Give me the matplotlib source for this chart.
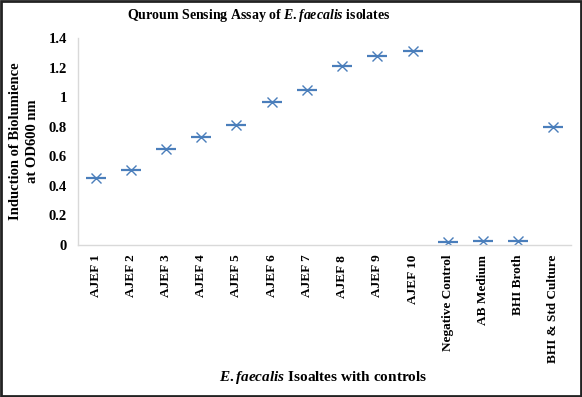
import matplotlib
matplotlib.use("Agg")
import matplotlib.pyplot as plt
from matplotlib.patches import Rectangle

categories = ["AJEF 1", "AJEF 2", "AJEF 3", "AJEF 4", "AJEF 5", "AJEF 6", "AJEF 7",
              "AJEF 8", "AJEF 9", "AJEF 10", "Negative Control", "AB Medium",
              "BHI Broth", "BHI & Std Culture"]
values = [0.45, 0.51, 0.65, 0.73, 0.81, 0.97, 1.05, 1.21, 1.28, 1.31, 0.02, 0.025, 0.025, 0.80]
yticks = [0, 0.2, 0.4, 0.6, 0.8, 1, 1.2, 1.4]
ytick_labels = ["0", "0.2", "0.4", "0.6", "0.8", "1", "1.2", "1.4"]

plt.rcParams['font.family'] = ['Liberation Serif', 'DejaVu Serif']
plt.rcParams['font.weight'] = 'bold'
plt.rcParams['mathtext.fontset'] = 'custom'
plt.rcParams['mathtext.it'] = 'Liberation Serif:italic:bold'
plt.rcParams['mathtext.rm'] = 'Liberation Serif:bold'
plt.rcParams['mathtext.bf'] = 'Liberation Serif:bold'

fig = plt.figure(figsize=(5.82, 3.97), dpi=100)
ax = fig.add_axes([78/582, 1 - 245/397, (571-78)/582, (245-38)/397])

x = list(range(len(categories)))
color = "#4A7EBB"
ax.plot(x, values, linestyle='none', marker='_', markersize=15, markeredgewidth=1.6, color=color)
ax.plot(x, values, linestyle='none', marker='x', markersize=6.5, markeredgewidth=1.0, color=color)

ax.set_xlim(-0.5, len(categories) - 0.5)
ax.set_ylim(0, 1.4)
ax.set_yticks(yticks)
ax.set_yticklabels(ytick_labels, fontsize=10.5, fontweight='bold')
ax.set_xticks(x)
ax.set_xticklabels(categories, rotation=90, fontsize=9.5, fontweight='bold')
ax.tick_params(axis='both', length=0)
ax.tick_params(axis='y', pad=8)
ax.tick_params(axis='x', pad=7)

for s in ['top', 'right']:
    ax.spines[s].set_visible(False)
for s in ['left', 'bottom']:
    ax.spines[s].set_color('#D9D9D9')
    ax.spines[s].set_linewidth(1.0)

fig.text(259/582, 1 - 16/397, r"Quroum Sensing Assay of $\mathit{E.faecalis}$ isolates",
         ha='center', va='center', fontsize=10, fontweight='bold')
fig.text(24/582, 1 - 141/397, "Induction of Biolumience\nat OD600 nm", rotation=90,
         ha='center', va='center', fontsize=10.5, fontweight='bold', linespacing=1.3)
fig.text(323/582, 1 - 378/397, r"$\mathit{E.faecalis}$ Isoaltes with controls",
         ha='center', va='center', fontsize=11, fontweight='bold')

fig.patches.append(Rectangle((0.002, 0.003), 0.996, 0.994, transform=fig.transFigure,
                             fill=False, edgecolor='#222222', linewidth=2.0))

fig.savefig("out.png", dpi=100)
